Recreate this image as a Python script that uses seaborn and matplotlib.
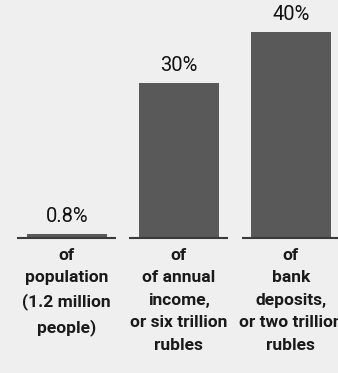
import numpy as np
import pandas as pd
import matplotlib.pyplot as plt
import seaborn as sns

# Data
categories = ["population", "annual income", "bank deposits"]
shares = [0.8, 30, 40]
value_labels = ["0.8%", "30%", "40%"]
bottom_labels = [
    "of\npopulation\n(1.2 million\npeople)",
    "of\nof annual\nincome,\nor six trillion\nrubles",
    "of\nbank\ndeposits,\nor two trillion\nrubles",
]

sns.set_theme(style="white")
plt.rcParams["font.family"] = ["Roboto", "DejaVu Sans"]

bg = "#efefef"
fig = plt.figure(figsize=(3.38, 3.73), dpi=100, facecolor=bg)
ax = fig.add_axes([0, 0, 1, 1])
ax.set_facecolor(bg)

df = pd.DataFrame({"cat": categories, "share": shares})
sns.barplot(data=df, x="cat", y="share", color="#595959", width=0.715,
            saturation=1, linewidth=0, ax=ax)

# per-bar baseline segments
for i in range(len(categories)):
    ax.hlines(0, i - 0.44, i + 0.44, color="#3a3a3a", lw=1.5)

# value labels above bars
for i, (v, lab) in enumerate(zip(shares, value_labels)):
    ax.annotate(lab, (i, v), xytext=(0, 6), textcoords="offset points",
                ha="center", va="bottom", fontsize=14.5, color="#111111")

# category labels below baseline
for i, lab in enumerate(bottom_labels):
    ax.text(i, -1.9, lab, ha="center", va="top", fontsize=12.5,
            fontweight="bold", color="#1a1a1a", linespacing=1.62)

ax.set_xlim(-0.595, 2.42)
ax.set_ylim(-26.2, 46.2)
ax.axis("off")

plt.savefig("out.png", dpi=100, facecolor=bg)
